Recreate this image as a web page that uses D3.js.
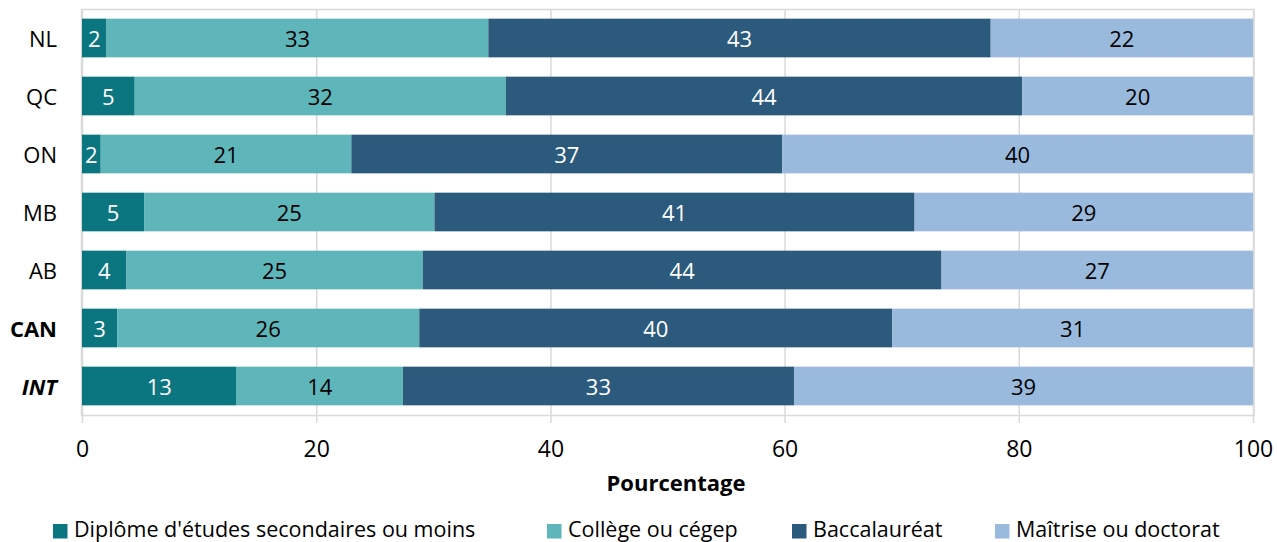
<!DOCTYPE html>
<html><head><meta charset="utf-8">
<script src="https://cdn.jsdelivr.net/npm/d3@7"></script>
<style>
html,body{margin:0;padding:0;background:#fff;}
svg{display:block;font-family:"Open Sans",sans-serif;}
</style></head>
<body>
<svg id="chart" width="1277" height="542"></svg>
<script>
const categories = ["NL","QC","ON","MB","AB","CAN","INT"];
const seriesNames = ["Diplôme d'études secondaires ou moins","Collège ou cégep","Baccalauréat","Maîtrise ou doctorat"];
const secondaire = [2.1, 4.5, 1.6, 5.3, 3.8, 3.0, 13.2];
const college =    [32.6, 31.7, 21.4, 24.8, 25.3, 25.8, 14.2];
const bacc =       [42.9, 44.1, 36.8, 41.0, 44.3, 40.4, 33.4];
const maitrise =   [22.4, 19.7, 40.2, 28.9, 26.6, 30.8, 39.2];
const xTicks = [0, 20, 40, 60, 80, 100];
const colors = ["#0B7580", "#5FB6BA", "#2C5A7D", "#9ABADD"];
const labelColors = ["#fff", "#000", "#fff", "#000"];

const svg = d3.select("#chart");
const m = {left: 82, right: 1253, top: 9, bottom: 415};

const x = d3.scaleLinear().domain([0, 100]).range([m.left, m.right]);
const y = d3.scaleBand().domain(categories).range([m.top, m.bottom]).paddingInner(1/3).paddingOuter(1/6);

const rows = categories.map((c, i) => ({cat: c, s0: secondaire[i], s1: college[i], s2: bacc[i], s3: maitrise[i]}));
const keys = ["s0","s1","s2","s3"];
const stack = d3.stack().keys(keys)(rows);

// plot area border
svg.append("rect").attr("x", m.left - 0.5).attr("y", m.top + 0.5)
  .attr("width", m.right - m.left + 1.5).attr("height", m.bottom - m.top)
  .attr("fill", "none").attr("stroke", "#d9d9d9").attr("stroke-width", 1.5);

// gridlines + axis
const xAxis = d3.axisBottom(x).tickValues(xTicks).tickSize(-(m.bottom - m.top)).tickPadding(18).tickFormat(d3.format("d"));
const gx = svg.append("g").attr("transform", `translate(0,${m.bottom + 8})`).call(xAxis);
gx.select(".domain").remove();
gx.selectAll(".tick line").attr("stroke", "#d9d9d9").attr("stroke-width", 1.5)
  .attr("y1", 0).attr("y2", -(m.bottom - m.top + 8));
gx.selectAll(".tick text").attr("font-family", "Open Sans").attr("font-size", 23).attr("fill", "#000").attr("dy", "0.71em");

// bars
const layers = svg.append("g").selectAll("g").data(stack).join("g")
  .attr("fill", (d, i) => colors[i]);
layers.selectAll("rect").data(d => d).join("rect")
  .attr("x", d => x(d[0])).attr("width", d => x(d[1]) - x(d[0]))
  .attr("y", d => y(d.data.cat)).attr("height", y.bandwidth());

// bar labels
const lbl = svg.append("g").selectAll("g").data(stack).join("g")
  .attr("fill", (d, i) => labelColors[i]);
lbl.selectAll("text").data(d => d).join("text")
  .attr("x", d => (x(d[0]) + x(d[1])) / 2)
  .attr("y", d => y(d.data.cat) + y.bandwidth() / 2)
  .attr("text-anchor", "middle").attr("dominant-baseline", "central")
  .attr("font-size", 22)
  .text(d => Math.round(d[1] - d[0]));

// category labels
svg.append("g").selectAll("text").data(categories).join("text")
  .attr("x", 57).attr("y", d => y(d) + y.bandwidth() / 2)
  .attr("text-anchor", "end").attr("dominant-baseline", "central")
  .attr("font-size", 22)
  .attr("font-weight", d => (d === "CAN" || d === "INT") ? "bold" : "normal")
  .attr("font-style", d => d === "INT" ? "italic" : "normal")
  .text(d => d);

// axis title
svg.append("text").attr("x", 676).attr("y", 482).attr("text-anchor", "middle")
  .attr("dominant-baseline", "central").attr("font-size", 22).attr("font-weight", "bold").text("Pourcentage");

// legend
const legendX = [53, 547, 792, 995];
const lg = svg.append("g").selectAll("g").data(seriesNames).join("g")
  .attr("transform", (d, i) => `translate(${legendX[i]},0)`);
lg.append("rect").attr("x", 0).attr("y", 524).attr("width", 14.5).attr("height", 14.5).attr("fill", (d, i) => colors[i]);
lg.append("text").attr("x", 21).attr("y", 528).attr("dominant-baseline", "central").attr("font-size", 21.5).text(d => d);
</script>
</body></html>
